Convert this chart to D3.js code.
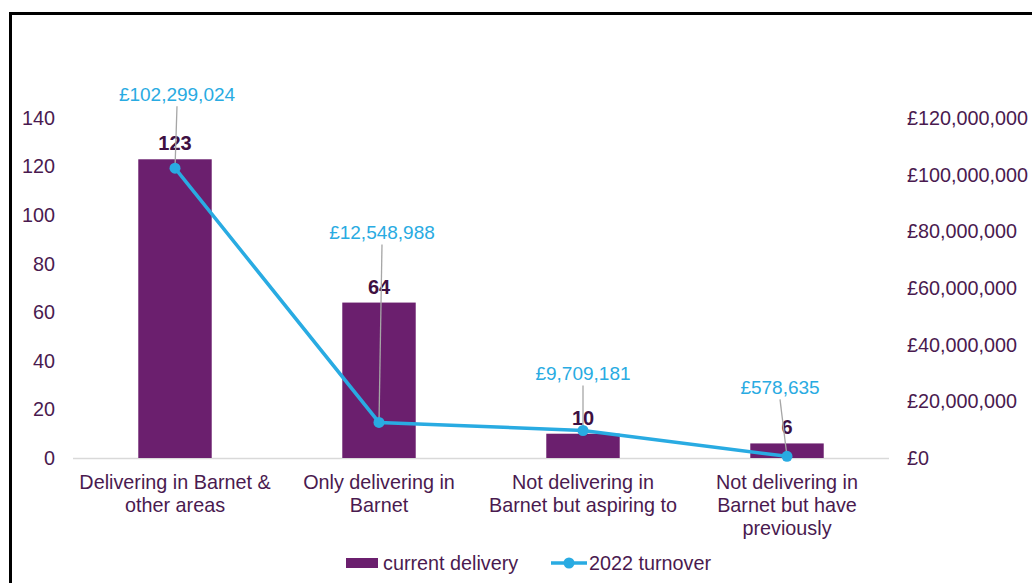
<!DOCTYPE html>
<html><head><meta charset="utf-8">
<script src="https://cdn.jsdelivr.net/npm/d3@7"></script>
<style>body{margin:0;background:#fff;}svg{display:block;font-family:"Liberation Sans",Arial,sans-serif;}</style>
</head><body>
<svg id="c" width="1032" height="583"></svg>
<script>
const categories = [["Delivering in Barnet &","other areas"],["Only delivering in","Barnet"],["Not delivering in","Barnet but aspiring to"],["Not delivering in","Barnet but have","previously"]];
const delivery = [123, 64, 10, 6];
const turnover = [102299024, 12548988, 9709181, 578635];
const leftTicks = [0,20,40,60,80,100,120,140];
const rightTicks = [0,20000000,40000000,60000000,80000000,100000000,120000000];
// label offsets relative to point (pixel), for turnover data labels
const labelPos = [[2,-74],[3,-190],[0,-57],[-7,-69]];

const svg = d3.select("#c");
const purple = "#6B1F6E", blue = "#29ABE2", txt = "#4A1A4F";
const fs = "19.8px";
svg.append("rect").attr("x",10.5).attr("y",13.5).attr("width",1040).attr("height",600).attr("fill","none").attr("stroke","#000").attr("stroke-width",3);

const x = d3.scaleBand().domain(d3.range(categories.length)).range([73,889]).paddingInner(0.64).paddingOuter(0.32);
const yL = d3.scaleLinear().domain([0,140]).range([458,118]);
const yR = d3.scaleLinear().domain([0,120000000]).range([458,118]);

// left axis
const la = svg.append("g").attr("transform","translate(55,0)").call(d3.axisLeft(yL).tickValues(leftTicks).tickSize(0).tickPadding(0));
la.select(".domain").remove();
la.selectAll("text").attr("fill",txt).style("font-size",fs).style("font-family","Liberation Sans, Arial, sans-serif");
// right axis
const ra = svg.append("g").attr("transform","translate(907,0)").call(d3.axisRight(yR).tickValues(rightTicks).tickSize(0).tickPadding(0).tickFormat(d=>"£"+d3.format(",")(d)));
ra.select(".domain").remove();
ra.selectAll("text").attr("fill",txt).style("font-size",fs).style("font-family","Liberation Sans, Arial, sans-serif");

// baseline
svg.append("line").attr("x1",73).attr("x2",889).attr("y1",458.5).attr("y2",458.5).attr("stroke","#d9d9d9").attr("stroke-width",1.5);

// bars
svg.selectAll("rect.bar").data(delivery).join("rect").attr("class","bar")
  .attr("x",(d,i)=>x(i)).attr("width",x.bandwidth()).attr("y",d=>yL(d)).attr("height",d=>yL(0)-yL(d)).attr("fill",purple);

// category labels
const cx = i => x(i)+x.bandwidth()/2;
categories.forEach((lines,i)=>{
  const t = svg.append("text").attr("text-anchor","middle").attr("fill",txt).style("font-size",fs);
  lines.forEach((l,j)=>t.append("tspan").attr("x",cx(i)).attr("y",489+j*23).text(l));
});

// bar value labels
svg.selectAll("text.val").data(delivery).join("text").attr("class","val")
  .attr("x",(d,i)=>cx(i)).attr("y",d=>yL(d)-9).attr("text-anchor","middle")
  .attr("fill","#3E1042").style("font-size","20px").style("font-weight","bold").text(d=>d);

// leader lines
turnover.forEach((v,i)=>{
  const px = cx(i), py = yR(v);
  const lx = px+labelPos[i][0], ly = py+labelPos[i][1];
  svg.append("line").attr("x1",lx).attr("y1",ly+12).attr("x2",px).attr("y2",py).attr("stroke","#a6a6a6").attr("stroke-width",1.3);
});

// line
svg.append("path").datum(turnover).attr("fill","none").attr("stroke",blue).attr("stroke-width",3.5)
  .attr("d",d3.line().x((d,i)=>cx(i)).y(d=>yR(d)));
svg.selectAll("circle.pt").data(turnover).join("circle").attr("class","pt")
  .attr("cx",(d,i)=>cx(i)).attr("cy",d=>yR(d)).attr("r",5.5).attr("fill",blue);

// turnover labels
turnover.forEach((v,i)=>{
  svg.append("text").attr("x",cx(i)+labelPos[i][0]).attr("y",yR(v)+labelPos[i][1]+7)
    .attr("text-anchor","middle").attr("fill",blue).style("font-size","19px").text("£"+d3.format(",")(v));
});

// legend
svg.append("rect").attr("x",346).attr("y",558).attr("width",32).attr("height",10).attr("fill",purple);
svg.append("text").attr("x",383).attr("y",570).attr("fill",txt).style("font-size",fs).text("current delivery");
svg.append("line").attr("x1",551).attr("x2",587).attr("y1",563).attr("y2",563).attr("stroke",blue).attr("stroke-width",3.5);
svg.append("circle").attr("cx",569).attr("cy",563).attr("r",5.5).attr("fill",blue);
svg.append("text").attr("x",589).attr("y",570).attr("fill",txt).style("font-size",fs).text("2022 turnover");
</script>
</body></html>
